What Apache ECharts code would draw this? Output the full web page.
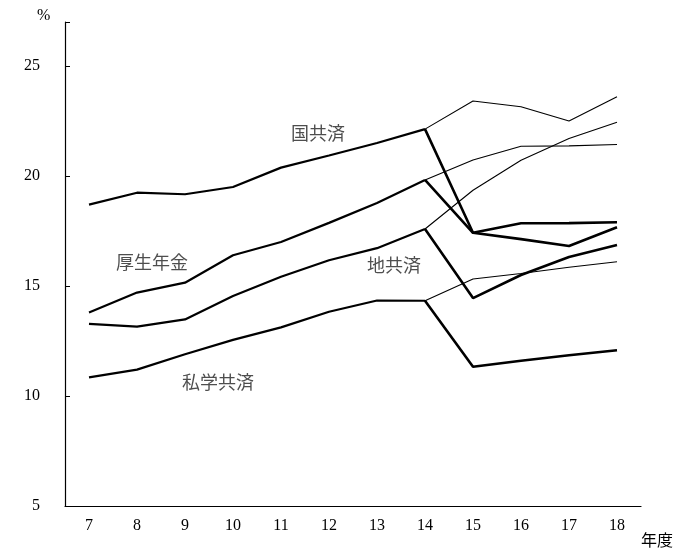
<!DOCTYPE html>
<html><head><meta charset="utf-8">
<script src="https://cdn.jsdelivr.net/npm/echarts@6/dist/echarts.min.js"></script>
<style>html,body{margin:0;padding:0;background:#fff}#c{width:683px;height:552px}</style>
</head><body><div id="c"></div>
<script>
// fiscal years (category axis)
const years = ['7','8','9','10','11','12','13','14','15','16','17','18'];
const yTicks = [5, 10, 15, 20, 25];

// rates, FY7–14
const kokkyo   = [18.7, 19.24, 19.17, 19.5, 20.38, 20.93, 21.5, 22.13];
const kosei    = [13.8, 14.7, 15.15, 16.4, 17.0, 17.87, 18.77, 19.82];
const chikyo   = [13.28, 13.15, 13.48, 14.55, 15.42, 16.17, 16.72, 17.59];
const shigaku  = [10.85, 11.2, 11.9, 12.55, 13.12, 13.83, 14.34, 14.33];

// FY14–18, thin continuation
const kokkyoThin  = [22.13, 23.41, 23.15, 22.5, 23.6];
const koseiThin   = [19.82, 20.73, 21.35, 21.37, 21.43];
const chikyoThin  = [17.59, 19.35, 20.72, 21.7, 22.44];
const shigakuThin = [14.33, 15.32, 15.57, 15.85, 16.1];

// FY14–18, thick drop
const kokkyoThick  = [22.13, 17.42, 17.13, 16.82, 17.67];
const koseiThick   = [19.82, 17.42, 17.85, 17.86, 17.9];
const chikyoThick  = [17.59, 14.45, 15.5, 16.32, 16.86];
const shigakuThick = [14.33, 11.33, 11.6, 11.85, 12.08];

// series name labels: text, anchor year, anchor value
const labelTexts  = ['国共済', '厚生年金', '地共済', '私学共済'];
const labelYears  = ['12', '8', '13', '10'];
const labelValues = [21.95, 16.1, 15.95, 10.65];
const labelShift  = [-11, 15, 17, -15];

function early(arr){ return years.map((y,i)=> i < arr.length ? arr[i] : null); }
function late(arr){ return years.map((y,i)=> i >= 7 ? arr[i-7] : null); }

const chart = echarts.init(document.getElementById('c'), null, {renderer:'canvas'});
const lineBase = {type:'line', symbol:'none', silent:true, animation:false, connectNulls:false};
const series = [];
[kokkyo, kosei, chikyo, shigaku].forEach(a => series.push(Object.assign({}, lineBase, {data: early(a), lineStyle:{color:'#000', width:2.2}})));
[kokkyoThin, koseiThin, chikyoThin, shigakuThin].forEach(a => series.push(Object.assign({}, lineBase, {data: late(a), lineStyle:{color:'#000', width:1.1}})));
[kokkyoThick, koseiThick, chikyoThick, shigakuThick].forEach(a => series.push(Object.assign({}, lineBase, {data: late(a), lineStyle:{color:'#000', width:2.6}})));

series.push({
  type:'scatter', symbolSize:0, silent:true, animation:false,
  data: labelTexts.map((t,i) => ({value:[labelYears[i], labelValues[i]], label:{show:true, formatter:t, position:'inside',
     offset:[labelShift[i],0], fontFamily:'Noto Sans CJK JP', fontSize:18, color:'#222'}}))
});

chart.setOption({
  backgroundColor:'#fff',
  animation:false,
  grid:{left:65, right:42, top:22, bottom:46},
  xAxis:{
    type:'category', data: years, boundaryGap:true,
    axisLine:{lineStyle:{color:'#000', width:1.2}},
    axisTick:{inside:true, length:4, lineStyle:{color:'#000'}},
    axisLabel:{color:'#000', fontFamily:'Liberation Serif', fontSize:16, margin:12}
  },
  yAxis:{
    type:'value', min:5, max:27, interval:5,
    splitLine:{show:false},
    axisLine:{show:true, lineStyle:{color:'#000', width:1.2}},
    axisTick:{show:true, inside:true, length:5, lineStyle:{color:'#000'}},
    axisLabel:{color:'#000', fontFamily:'Liberation Serif', fontSize:16, margin:25,
      formatter: v => yTicks.indexOf(v) >= 0 ? String(v) : ''}
  },
  graphic:[
    {type:'text', left:37, top:8, style:{text:'%', font:'16px "Liberation Serif"', fill:'#000'}},
    {type:'text', left:641, top:532, style:{text:'年度', font:'16px "Noto Sans CJK JP"', fill:'#000'}}
  ],
  series: series
});
</script></body></html>
